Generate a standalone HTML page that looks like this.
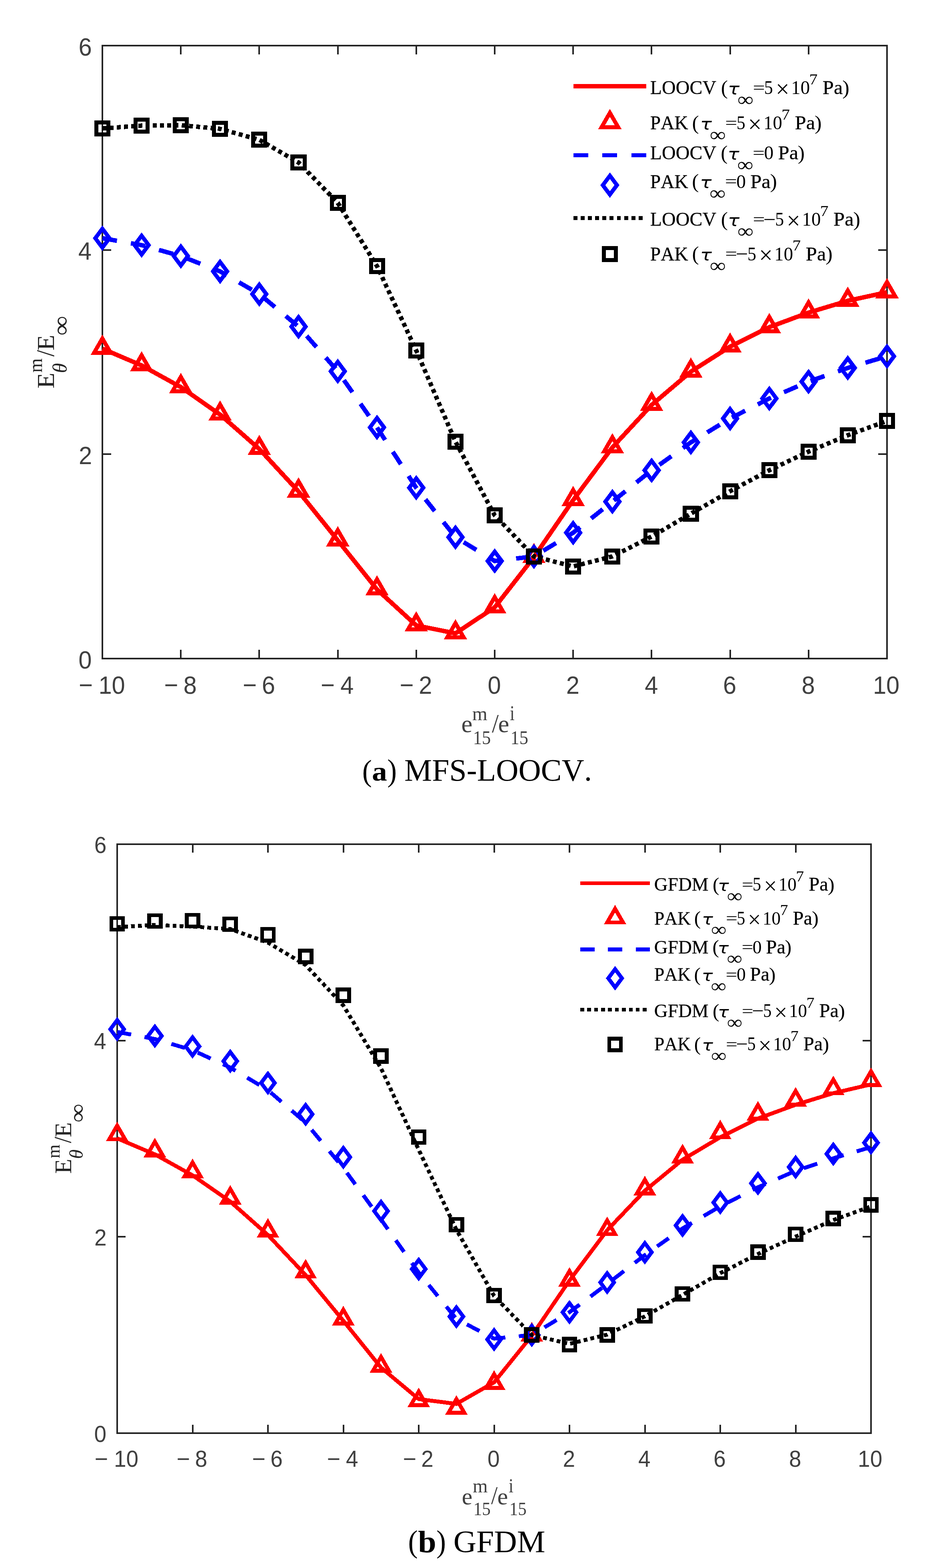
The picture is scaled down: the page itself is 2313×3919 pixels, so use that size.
<!DOCTYPE html>
<html lang="en"><head><meta charset="utf-8"><title>Figure</title>
<style>
html,body{margin:0;padding:0;background:#fff;}
body{width:2313px;height:3919px;overflow:hidden;}
svg{display:block;}
text{white-space:pre;font-kerning:none;}
</style></head><body>
<svg width="2313" height="3919" viewBox="0 0 2313 3919">
<rect width="2313" height="3919" fill="#ffffff"/>
<rect x="256.00" y="114.00" width="1962.00" height="1532.00" fill="none" stroke="#242424" stroke-width="4.00" shape-rendering="crispEdges"/>
<path d="M452.20 1646.00v-22.00M452.20 114.00v22.00M648.40 1646.00v-22.00M648.40 114.00v22.00M844.60 1646.00v-22.00M844.60 114.00v22.00M1040.80 1646.00v-22.00M1040.80 114.00v22.00M1237.00 1646.00v-22.00M1237.00 114.00v22.00M1433.20 1646.00v-22.00M1433.20 114.00v22.00M1629.40 1646.00v-22.00M1629.40 114.00v22.00M1825.60 1646.00v-22.00M1825.60 114.00v22.00M2021.80 1646.00v-22.00M2021.80 114.00v22.00M256.00 1135.33h22.00M2218.00 1135.33h-22.00M256.00 624.67h22.00M2218.00 624.67h-22.00" fill="none" stroke="#242424" stroke-width="4.00" shape-rendering="crispEdges"/>
<text transform="translate(196.98 1734.30) scale(0.6010 0.6350)" font-family="'Liberation Sans', sans-serif" font-size="100" fill="#404040">−</text>
<text transform="translate(246.40 1734.30) scale(0.5969 0.6350)" font-family="'Liberation Sans', sans-serif" font-size="100" fill="#404040">10</text>
<text transform="translate(410.53 1734.30) scale(0.6010 0.6350)" font-family="'Liberation Sans', sans-serif" font-size="100" fill="#404040">−</text>
<text transform="translate(458.70 1734.30) scale(0.5969 0.6350)" font-family="'Liberation Sans', sans-serif" font-size="100" fill="#404040">8</text>
<text transform="translate(606.96 1734.30) scale(0.6010 0.6350)" font-family="'Liberation Sans', sans-serif" font-size="100" fill="#404040">−</text>
<text transform="translate(654.70 1734.30) scale(0.5969 0.6350)" font-family="'Liberation Sans', sans-serif" font-size="100" fill="#404040">6</text>
<text transform="translate(801.90 1734.30) scale(0.6010 0.6350)" font-family="'Liberation Sans', sans-serif" font-size="100" fill="#404040">−</text>
<text transform="translate(851.29 1734.30) scale(0.5969 0.6350)" font-family="'Liberation Sans', sans-serif" font-size="100" fill="#404040">4</text>
<text transform="translate(999.54 1734.30) scale(0.6010 0.6350)" font-family="'Liberation Sans', sans-serif" font-size="100" fill="#404040">−</text>
<text transform="translate(1047.30 1734.30) scale(0.5969 0.6350)" font-family="'Liberation Sans', sans-serif" font-size="100" fill="#404040">2</text>
<text transform="translate(1219.60 1734.30) scale(0.5969 0.6350)" font-family="'Liberation Sans', sans-serif" font-size="100" fill="#404040">0</text>
<text transform="translate(1415.80 1734.30) scale(0.5969 0.6350)" font-family="'Liberation Sans', sans-serif" font-size="100" fill="#404040">2</text>
<text transform="translate(1612.19 1734.30) scale(0.5969 0.6350)" font-family="'Liberation Sans', sans-serif" font-size="100" fill="#404040">4</text>
<text transform="translate(1808.00 1734.30) scale(0.5969 0.6350)" font-family="'Liberation Sans', sans-serif" font-size="100" fill="#404040">6</text>
<text transform="translate(2004.40 1734.30) scale(0.5969 0.6350)" font-family="'Liberation Sans', sans-serif" font-size="100" fill="#404040">8</text>
<text transform="translate(2182.90 1734.30) scale(0.5969 0.6350)" font-family="'Liberation Sans', sans-serif" font-size="100" fill="#404040">10</text>
<text transform="translate(196.23 1670.50) scale(0.5969 0.6350)" font-family="'Liberation Sans', sans-serif" font-size="100" fill="#404040">0</text>
<text transform="translate(196.91 1159.83) scale(0.5969 0.6350)" font-family="'Liberation Sans', sans-serif" font-size="100" fill="#404040">2</text>
<text transform="translate(195.65 649.17) scale(0.5969 0.6350)" font-family="'Liberation Sans', sans-serif" font-size="100" fill="#404040">4</text>
<text transform="translate(196.53 138.50) scale(0.5969 0.6350)" font-family="'Liberation Sans', sans-serif" font-size="100" fill="#404040">6</text>
<polyline points="256.00,871.50 354.10,913.37 452.20,967.50 550.30,1036.19 648.40,1122.23 746.50,1228.45 844.60,1350.50 942.70,1473.32 1040.80,1563.20 1138.90,1582.98 1237.00,1518.00 1335.10,1392.38 1433.20,1249.90 1531.30,1118.15 1629.40,1012.19 1727.50,928.95 1825.60,866.39 1923.70,817.70 2021.80,781.36 2119.90,751.75 2218.00,730.40" fill="none" stroke="#ff0000" stroke-width="11.10" stroke-linejoin="round" shape-rendering="crispEdges"/>
<path d="M256.00 845.90L276.60 881.60L235.40 881.60ZM354.10 887.77L374.70 923.47L333.50 923.47ZM452.20 941.90L472.80 977.60L431.60 977.60ZM550.30 1010.59L570.90 1046.29L529.70 1046.29ZM648.40 1096.63L669.00 1132.33L627.80 1132.33ZM746.50 1202.85L767.10 1238.55L725.90 1238.55ZM844.60 1324.90L865.20 1360.60L824.00 1360.60ZM942.70 1447.72L963.30 1483.42L922.10 1483.42ZM1040.80 1537.60L1061.40 1573.30L1020.20 1573.30ZM1138.90 1557.38L1159.50 1593.08L1118.30 1593.08ZM1237.00 1492.40L1257.60 1528.10L1216.40 1528.10ZM1335.10 1366.78L1355.70 1402.48L1314.50 1402.48ZM1433.20 1224.30L1453.80 1260.00L1412.60 1260.00ZM1531.30 1092.55L1551.90 1128.25L1510.70 1128.25ZM1629.40 986.59L1650.00 1022.29L1608.80 1022.29ZM1727.50 903.35L1748.10 939.05L1706.90 939.05ZM1825.60 840.79L1846.20 876.49L1805.00 876.49ZM1923.70 792.10L1944.30 827.80L1903.10 827.80ZM2021.80 755.76L2042.40 791.46L2001.20 791.46ZM2119.90 726.15L2140.50 761.85L2099.30 761.85ZM2218.00 704.80L2238.60 740.50L2197.40 740.50Z" fill="none" stroke="#ff0000" stroke-width="10.00" stroke-linejoin="miter" stroke-miterlimit="10" shape-rendering="crispEdges"/>
<polyline points="256.00,595.30 354.10,612.67 452.20,639.99 550.30,678.29 648.40,734.97 746.50,816.42 844.60,928.00 942.70,1068.31 1040.80,1219.08 1138.90,1342.66 1237.00,1402.16 1335.10,1390.67 1433.20,1331.43 1531.30,1253.81 1629.40,1175.50 1727.50,1105.71 1825.60,1045.97 1923.70,996.00 2021.80,953.79 2119.90,919.58 2218.00,890.47" fill="none" stroke="#0000ff" stroke-width="11.10" stroke-linejoin="round" shape-rendering="crispEdges" stroke-dasharray="37 35.3" stroke-dashoffset="0.00"/>
<path d="M256.00 571.70L273.70 595.30L256.00 618.90L238.30 595.30ZM354.10 589.07L371.80 612.67L354.10 636.27L336.40 612.67ZM452.20 616.39L469.90 639.99L452.20 663.59L434.50 639.99ZM550.30 654.69L568.00 678.29L550.30 701.89L532.60 678.29ZM648.40 711.37L666.10 734.97L648.40 758.57L630.70 734.97ZM746.50 792.82L764.20 816.42L746.50 840.02L728.80 816.42ZM844.60 904.40L862.30 928.00L844.60 951.60L826.90 928.00ZM942.70 1044.71L960.40 1068.31L942.70 1091.91L925.00 1068.31ZM1040.80 1195.48L1058.50 1219.08L1040.80 1242.68L1023.10 1219.08ZM1138.90 1319.06L1156.60 1342.66L1138.90 1366.26L1121.20 1342.66ZM1237.00 1378.56L1254.70 1402.16L1237.00 1425.76L1219.30 1402.16ZM1335.10 1367.07L1352.80 1390.67L1335.10 1414.27L1317.40 1390.67ZM1433.20 1307.83L1450.90 1331.43L1433.20 1355.03L1415.50 1331.43ZM1531.30 1230.21L1549.00 1253.81L1531.30 1277.41L1513.60 1253.81ZM1629.40 1151.90L1647.10 1175.50L1629.40 1199.10L1611.70 1175.50ZM1727.50 1082.11L1745.20 1105.71L1727.50 1129.31L1709.80 1105.71ZM1825.60 1022.37L1843.30 1045.97L1825.60 1069.57L1807.90 1045.97ZM1923.70 972.40L1941.40 996.00L1923.70 1019.60L1906.00 996.00ZM2021.80 930.19L2039.50 953.79L2021.80 977.39L2004.10 953.79ZM2119.90 895.98L2137.60 919.58L2119.90 943.18L2102.20 919.58ZM2218.00 866.87L2235.70 890.47L2218.00 914.07L2200.30 890.47Z" fill="none" stroke="#0000ff" stroke-width="10.00" stroke-linejoin="miter" stroke-miterlimit="10" shape-rendering="crispEdges"/>
<polyline points="256.00,321.08 354.10,313.93 452.20,312.90 550.30,322.10 648.40,349.42 746.50,406.10 844.60,506.96 942.70,665.01 1040.80,875.91 1138.90,1103.93 1237.00,1287.89 1335.10,1390.67 1433.20,1415.69 1531.30,1390.67 1629.40,1341.13 1727.50,1283.81 1825.60,1227.76 1923.70,1175.29 2021.80,1128.80 2119.90,1087.84 2218.00,1052.09" fill="none" stroke="#000000" stroke-width="11.10" stroke-linejoin="round" shape-rendering="crispEdges" stroke-dasharray="9.9 8.175" stroke-dashoffset="0.00"/>
<path d="M240.95 306.03h30.10v30.10h-30.10ZM339.05 298.88h30.10v30.10h-30.10ZM437.15 297.85h30.10v30.10h-30.10ZM535.25 307.05h30.10v30.10h-30.10ZM633.35 334.37h30.10v30.10h-30.10ZM731.45 391.05h30.10v30.10h-30.10ZM829.55 491.91h30.10v30.10h-30.10ZM927.65 649.96h30.10v30.10h-30.10ZM1025.75 860.86h30.10v30.10h-30.10ZM1123.85 1088.88h30.10v30.10h-30.10ZM1221.95 1272.85h30.10v30.10h-30.10ZM1320.05 1375.62h30.10v30.10h-30.10ZM1418.15 1400.64h30.10v30.10h-30.10ZM1516.25 1375.62h30.10v30.10h-30.10ZM1614.35 1326.08h30.10v30.10h-30.10ZM1712.45 1268.76h30.10v30.10h-30.10ZM1810.55 1212.71h30.10v30.10h-30.10ZM1908.65 1160.24h30.10v30.10h-30.10ZM2006.75 1113.75h30.10v30.10h-30.10ZM2104.85 1072.79h30.10v30.10h-30.10ZM2202.95 1037.04h30.10v30.10h-30.10Z" fill="none" stroke="#000000" stroke-width="10.00" stroke-linejoin="miter" stroke-miterlimit="10" shape-rendering="crispEdges"/>
<path d="M1434.10 215.40H1616.00" fill="none" stroke="#ff0000" stroke-width="11.00" shape-rendering="crispEdges"/>
<path d="M1525.05 282.00L1545.65 317.70L1504.45 317.70Z" fill="none" stroke="#ff0000" stroke-width="10.00" stroke-linejoin="miter" stroke-miterlimit="10" shape-rendering="crispEdges"/>
<path d="M1434.10 388.00H1616.00" fill="none" stroke="#0000ff" stroke-width="10.10" shape-rendering="crispEdges" stroke-dasharray="37 35.3"/>
<path d="M1525.05 439.20L1542.75 462.80L1525.05 486.40L1507.35 462.80Z" fill="none" stroke="#0000ff" stroke-width="10.00" stroke-linejoin="miter" stroke-miterlimit="10" shape-rendering="crispEdges"/>
<path d="M1434.10 545.00H1606.72" fill="none" stroke="#000000" stroke-width="9.90" shape-rendering="crispEdges" stroke-dasharray="9.9 8.175"/>
<path d="M1510.00 620.00h30.10v30.10h-30.10Z" fill="none" stroke="#000000" stroke-width="10.00" stroke-linejoin="miter" stroke-miterlimit="10" shape-rendering="crispEdges"/>
<text stroke="#000000" stroke-width="0.7" stroke-linejoin="round" transform="translate(1625.82 235.20) scale(0.4797 0.4940)" font-family="'Liberation Serif', serif" font-size="100" fill="#000000">LOOCV</text>
<text transform="translate(1802.82 235.71) scale(0.5178 0.4974)" font-family="'Liberation Serif', serif" font-size="100" fill="#000000">(</text>
<text transform="translate(1819.91 236.00) scale(0.4847 0.4059)" font-family="'DejaVu Sans', sans-serif" font-style="italic" font-size="100" fill="#000000">τ</text>
<text transform="translate(1843.98 264.84) scale(0.5634 0.4884)" font-family="'Liberation Serif', serif" font-size="100" fill="#000000">∞</text>
<text transform="translate(1882.52 232.86) scale(0.5373 0.4040)" font-family="'Liberation Serif', serif" font-size="100" fill="#000000">=</text>
<text transform="translate(1910.83 235.22) scale(0.4419 0.4951)" font-family="'Liberation Serif', serif" font-size="100" fill="#000000">5</text>
<text transform="translate(1939.82 243.08) scale(0.6048 0.6115)" font-family="'Liberation Serif', serif" font-size="100" fill="#000000">×</text>
<text transform="translate(1978.18 235.22) scale(0.4691 0.4875)" font-family="'Liberation Serif', serif" font-size="100" fill="#000000">10</text>
<text transform="translate(2023.45 211.00) scale(0.4170 0.3894)" font-family="'Liberation Serif', serif" font-size="100" fill="#000000">7</text>
<text stroke="#000000" stroke-width="0.6" stroke-linejoin="round" transform="translate(2056.74 235.22) scale(0.5065 0.4951)" font-family="'Liberation Serif', serif" font-size="100" fill="#000000">Pa</text>
<text transform="translate(2106.18 235.71) scale(0.5334 0.4974)" font-family="'Liberation Serif', serif" font-size="100" fill="#000000">)</text>
<text stroke="#000000" stroke-width="0.7" stroke-linejoin="round" transform="translate(1625.83 323.10) scale(0.4741 0.4940)" font-family="'Liberation Serif', serif" font-size="100" fill="#000000">PAK</text>
<text transform="translate(1730.62 323.61) scale(0.5178 0.4974)" font-family="'Liberation Serif', serif" font-size="100" fill="#000000">(</text>
<text transform="translate(1750.71 323.90) scale(0.4847 0.4059)" font-family="'DejaVu Sans', sans-serif" font-style="italic" font-size="100" fill="#000000">τ</text>
<text transform="translate(1774.78 352.74) scale(0.5634 0.4884)" font-family="'Liberation Serif', serif" font-size="100" fill="#000000">∞</text>
<text transform="translate(1813.32 320.76) scale(0.5373 0.4040)" font-family="'Liberation Serif', serif" font-size="100" fill="#000000">=</text>
<text transform="translate(1841.63 323.12) scale(0.4419 0.4951)" font-family="'Liberation Serif', serif" font-size="100" fill="#000000">5</text>
<text transform="translate(1870.62 330.98) scale(0.6048 0.6115)" font-family="'Liberation Serif', serif" font-size="100" fill="#000000">×</text>
<text transform="translate(1908.98 323.12) scale(0.4691 0.4875)" font-family="'Liberation Serif', serif" font-size="100" fill="#000000">10</text>
<text transform="translate(1954.25 298.90) scale(0.4170 0.3894)" font-family="'Liberation Serif', serif" font-size="100" fill="#000000">7</text>
<text stroke="#000000" stroke-width="0.6" stroke-linejoin="round" transform="translate(1987.54 323.12) scale(0.5065 0.4951)" font-family="'Liberation Serif', serif" font-size="100" fill="#000000">Pa</text>
<text transform="translate(2036.98 323.61) scale(0.5334 0.4974)" font-family="'Liberation Serif', serif" font-size="100" fill="#000000">)</text>
<text stroke="#000000" stroke-width="0.7" stroke-linejoin="round" transform="translate(1625.82 398.00) scale(0.4797 0.4940)" font-family="'Liberation Serif', serif" font-size="100" fill="#000000">LOOCV</text>
<text transform="translate(1802.32 398.51) scale(0.5178 0.4974)" font-family="'Liberation Serif', serif" font-size="100" fill="#000000">(</text>
<text transform="translate(1819.51 398.80) scale(0.4847 0.4059)" font-family="'DejaVu Sans', sans-serif" font-style="italic" font-size="100" fill="#000000">τ</text>
<text transform="translate(1843.58 427.64) scale(0.5634 0.4884)" font-family="'Liberation Serif', serif" font-size="100" fill="#000000">∞</text>
<text transform="translate(1882.12 395.66) scale(0.5373 0.4040)" font-family="'Liberation Serif', serif" font-size="100" fill="#000000">=</text>
<text transform="translate(1910.58 398.02) scale(0.4766 0.4875)" font-family="'Liberation Serif', serif" font-size="100" fill="#000000">0</text>
<text stroke="#000000" stroke-width="0.6" stroke-linejoin="round" transform="translate(1945.44 398.02) scale(0.5076 0.4951)" font-family="'Liberation Serif', serif" font-size="100" fill="#000000">Pa</text>
<text transform="translate(1994.71 398.51) scale(0.5256 0.4974)" font-family="'Liberation Serif', serif" font-size="100" fill="#000000">)</text>
<text stroke="#000000" stroke-width="0.7" stroke-linejoin="round" transform="translate(1625.83 469.60) scale(0.4741 0.4940)" font-family="'Liberation Serif', serif" font-size="100" fill="#000000">PAK</text>
<text transform="translate(1730.32 470.11) scale(0.5178 0.4974)" font-family="'Liberation Serif', serif" font-size="100" fill="#000000">(</text>
<text transform="translate(1750.21 470.40) scale(0.4847 0.4059)" font-family="'DejaVu Sans', sans-serif" font-style="italic" font-size="100" fill="#000000">τ</text>
<text transform="translate(1774.28 499.24) scale(0.5634 0.4884)" font-family="'Liberation Serif', serif" font-size="100" fill="#000000">∞</text>
<text transform="translate(1812.82 467.26) scale(0.5373 0.4040)" font-family="'Liberation Serif', serif" font-size="100" fill="#000000">=</text>
<text transform="translate(1841.28 469.62) scale(0.4766 0.4875)" font-family="'Liberation Serif', serif" font-size="100" fill="#000000">0</text>
<text stroke="#000000" stroke-width="0.6" stroke-linejoin="round" transform="translate(1876.14 469.62) scale(0.5076 0.4951)" font-family="'Liberation Serif', serif" font-size="100" fill="#000000">Pa</text>
<text transform="translate(1925.41 470.11) scale(0.5256 0.4974)" font-family="'Liberation Serif', serif" font-size="100" fill="#000000">)</text>
<text stroke="#000000" stroke-width="0.7" stroke-linejoin="round" transform="translate(1625.82 564.30) scale(0.4797 0.4940)" font-family="'Liberation Serif', serif" font-size="100" fill="#000000">LOOCV</text>
<text transform="translate(1802.82 564.81) scale(0.5178 0.4974)" font-family="'Liberation Serif', serif" font-size="100" fill="#000000">(</text>
<text transform="translate(1819.91 565.10) scale(0.4847 0.4059)" font-family="'DejaVu Sans', sans-serif" font-style="italic" font-size="100" fill="#000000">τ</text>
<text transform="translate(1843.98 593.94) scale(0.5634 0.4884)" font-family="'Liberation Serif', serif" font-size="100" fill="#000000">∞</text>
<text transform="translate(1882.52 561.96) scale(0.5373 0.4040)" font-family="'Liberation Serif', serif" font-size="100" fill="#000000">=</text>
<text transform="translate(1908.76 565.53) scale(0.5501 0.5220)" font-family="'Liberation Serif', serif" font-size="100" fill="#000000">−</text>
<text transform="translate(1938.13 564.32) scale(0.4419 0.4951)" font-family="'Liberation Serif', serif" font-size="100" fill="#000000">5</text>
<text transform="translate(1967.12 572.18) scale(0.6048 0.6115)" font-family="'Liberation Serif', serif" font-size="100" fill="#000000">×</text>
<text transform="translate(2005.48 564.32) scale(0.4691 0.4875)" font-family="'Liberation Serif', serif" font-size="100" fill="#000000">10</text>
<text transform="translate(2050.75 540.10) scale(0.4170 0.3894)" font-family="'Liberation Serif', serif" font-size="100" fill="#000000">7</text>
<text stroke="#000000" stroke-width="0.6" stroke-linejoin="round" transform="translate(2084.04 564.32) scale(0.5065 0.4951)" font-family="'Liberation Serif', serif" font-size="100" fill="#000000">Pa</text>
<text transform="translate(2133.48 564.81) scale(0.5334 0.4974)" font-family="'Liberation Serif', serif" font-size="100" fill="#000000">)</text>
<text stroke="#000000" stroke-width="0.7" stroke-linejoin="round" transform="translate(1625.83 650.60) scale(0.4741 0.4940)" font-family="'Liberation Serif', serif" font-size="100" fill="#000000">PAK</text>
<text transform="translate(1730.62 651.11) scale(0.5178 0.4974)" font-family="'Liberation Serif', serif" font-size="100" fill="#000000">(</text>
<text transform="translate(1750.71 651.40) scale(0.4847 0.4059)" font-family="'DejaVu Sans', sans-serif" font-style="italic" font-size="100" fill="#000000">τ</text>
<text transform="translate(1774.78 680.24) scale(0.5634 0.4884)" font-family="'Liberation Serif', serif" font-size="100" fill="#000000">∞</text>
<text transform="translate(1813.32 648.26) scale(0.5373 0.4040)" font-family="'Liberation Serif', serif" font-size="100" fill="#000000">=</text>
<text transform="translate(1839.56 651.83) scale(0.5501 0.5220)" font-family="'Liberation Serif', serif" font-size="100" fill="#000000">−</text>
<text transform="translate(1868.93 650.62) scale(0.4419 0.4951)" font-family="'Liberation Serif', serif" font-size="100" fill="#000000">5</text>
<text transform="translate(1897.92 658.48) scale(0.6048 0.6115)" font-family="'Liberation Serif', serif" font-size="100" fill="#000000">×</text>
<text transform="translate(1936.28 650.62) scale(0.4691 0.4875)" font-family="'Liberation Serif', serif" font-size="100" fill="#000000">10</text>
<text transform="translate(1981.55 626.40) scale(0.4170 0.3894)" font-family="'Liberation Serif', serif" font-size="100" fill="#000000">7</text>
<text stroke="#000000" stroke-width="0.6" stroke-linejoin="round" transform="translate(2014.84 650.62) scale(0.5065 0.4951)" font-family="'Liberation Serif', serif" font-size="100" fill="#000000">Pa</text>
<text transform="translate(2064.28 651.11) scale(0.5334 0.4974)" font-family="'Liberation Serif', serif" font-size="100" fill="#000000">)</text>
<text transform="translate(1153.44 1830.09) scale(0.6295 0.6217)" font-family="'Liberation Serif', serif" font-size="100" fill="#404040">e</text>
<text transform="translate(1180.87 1800.30) scale(0.4897 0.4839)" font-family="'Liberation Serif', serif" font-size="100" fill="#404040">m</text>
<text transform="translate(1182.67 1859.63) scale(0.4467 0.4821)" font-family="'Liberation Serif', serif" font-size="100" fill="#404040">15</text>
<text transform="translate(1230.10 1830.06) scale(0.6119 0.6518)" font-family="'Liberation Serif', serif" font-size="100" fill="#404040">/</text>
<text transform="translate(1245.45 1830.09) scale(0.6268 0.6217)" font-family="'Liberation Serif', serif" font-size="100" fill="#404040">e</text>
<text transform="translate(1275.11 1800.30) scale(0.4247 0.5196)" font-family="'Liberation Serif', serif" font-size="100" fill="#404040">i</text>
<text transform="translate(1276.59 1859.63) scale(0.4444 0.4821)" font-family="'Liberation Serif', serif" font-size="100" fill="#404040">15</text>
<text transform="translate(135.20 971.01) rotate(-90) scale(0.6473 0.6155)" font-family="'Liberation Serif', serif" font-size="100" fill="#242424">E</text>
<text transform="translate(105.10 931.16) rotate(-90) scale(0.4587 0.4775)" font-family="'Liberation Serif', serif" font-size="100" fill="#242424">m</text>
<text transform="translate(166.60 932.47) rotate(-90) scale(0.5060 0.5106)" font-family="'Liberation Serif', serif" font-style="italic" font-size="100" fill="#242424">θ</text>
<text transform="translate(135.27 891.30) rotate(-90) scale(0.5939 0.6443)" font-family="'Liberation Serif', serif" font-size="100" fill="#242424">/</text>
<text transform="translate(135.20 876.00) rotate(-90) scale(0.6435 0.6155)" font-family="'Liberation Serif', serif" font-size="100" fill="#242424">E</text>
<text transform="translate(173.11 838.71) rotate(-90) scale(0.6952 0.6065)" font-family="'Liberation Serif', serif" font-size="100" fill="#242424">∞</text>
<text transform="translate(905.82 1951.86) scale(0.7242 0.7720)" font-family="'Liberation Serif', serif" font-size="100" fill="#000000">(</text>
<text transform="translate(930.06 1951.44) scale(0.7578 0.6764)" font-family="'Liberation Serif', serif" font-weight="bold" font-size="100" fill="#000000">a</text>
<text transform="translate(968.62 1951.86) scale(0.7086 0.7720)" font-family="'Liberation Serif', serif" font-size="100" fill="#000000">)</text>
<text transform="translate(1011.06 1950.90) scale(0.7780 0.7730)" font-family="'Liberation Serif', serif" font-size="100" fill="#000000">MFS-LOOCV.</text>
<rect x="293.00" y="2110.00" width="1885.00" height="1472.00" fill="none" stroke="#242424" stroke-width="4.00" shape-rendering="crispEdges"/>
<path d="M481.50 3582.00v-21.14M481.50 2110.00v21.14M670.00 3582.00v-21.14M670.00 2110.00v21.14M858.50 3582.00v-21.14M858.50 2110.00v21.14M1047.00 3582.00v-21.14M1047.00 2110.00v21.14M1235.50 3582.00v-21.14M1235.50 2110.00v21.14M1424.00 3582.00v-21.14M1424.00 2110.00v21.14M1612.50 3582.00v-21.14M1612.50 2110.00v21.14M1801.00 3582.00v-21.14M1801.00 2110.00v21.14M1989.50 3582.00v-21.14M1989.50 2110.00v21.14M293.00 3091.33h21.14M2178.00 3091.33h-21.14M293.00 2600.67h21.14M2178.00 2600.67h-21.14" fill="none" stroke="#242424" stroke-width="4.00" shape-rendering="crispEdges"/>
<text transform="translate(236.58 3666.20) scale(0.5763 0.5760)" font-family="'Liberation Sans', sans-serif" font-size="100" fill="#404040">−</text>
<text transform="translate(284.94 3666.20) scale(0.5501 0.5760)" font-family="'Liberation Sans', sans-serif" font-size="100" fill="#404040">10</text>
<text transform="translate(441.50 3666.20) scale(0.5763 0.5760)" font-family="'Liberation Sans', sans-serif" font-size="100" fill="#404040">−</text>
<text transform="translate(487.85 3666.20) scale(0.5501 0.5760)" font-family="'Liberation Sans', sans-serif" font-size="100" fill="#404040">8</text>
<text transform="translate(630.22 3666.20) scale(0.5763 0.5760)" font-family="'Liberation Sans', sans-serif" font-size="100" fill="#404040">−</text>
<text transform="translate(676.17 3666.20) scale(0.5501 0.5760)" font-family="'Liberation Sans', sans-serif" font-size="100" fill="#404040">6</text>
<text transform="translate(817.55 3666.20) scale(0.5763 0.5760)" font-family="'Liberation Sans', sans-serif" font-size="100" fill="#404040">−</text>
<text transform="translate(865.03 3666.20) scale(0.5501 0.5760)" font-family="'Liberation Sans', sans-serif" font-size="100" fill="#404040">4</text>
<text transform="translate(1007.38 3666.20) scale(0.5763 0.5760)" font-family="'Liberation Sans', sans-serif" font-size="100" fill="#404040">−</text>
<text transform="translate(1053.35 3666.20) scale(0.5501 0.5760)" font-family="'Liberation Sans', sans-serif" font-size="100" fill="#404040">2</text>
<text transform="translate(1218.90 3666.20) scale(0.5501 0.5760)" font-family="'Liberation Sans', sans-serif" font-size="100" fill="#404040">0</text>
<text transform="translate(1407.40 3666.20) scale(0.5501 0.5760)" font-family="'Liberation Sans', sans-serif" font-size="100" fill="#404040">2</text>
<text transform="translate(1596.08 3666.20) scale(0.5501 0.5760)" font-family="'Liberation Sans', sans-serif" font-size="100" fill="#404040">4</text>
<text transform="translate(1784.22 3666.20) scale(0.5501 0.5760)" font-family="'Liberation Sans', sans-serif" font-size="100" fill="#404040">6</text>
<text transform="translate(1972.90 3666.20) scale(0.5501 0.5760)" font-family="'Liberation Sans', sans-serif" font-size="100" fill="#404040">8</text>
<text transform="translate(2145.09 3666.20) scale(0.5501 0.5760)" font-family="'Liberation Sans', sans-serif" font-size="100" fill="#404040">10</text>
<text transform="translate(235.46 3603.50) scale(0.5501 0.5760)" font-family="'Liberation Sans', sans-serif" font-size="100" fill="#404040">0</text>
<text transform="translate(236.07 3112.83) scale(0.5501 0.5760)" font-family="'Liberation Sans', sans-serif" font-size="100" fill="#404040">2</text>
<text transform="translate(234.92 2622.17) scale(0.5501 0.5760)" font-family="'Liberation Sans', sans-serif" font-size="100" fill="#404040">4</text>
<text transform="translate(235.72 2131.50) scale(0.5501 0.5760)" font-family="'Liberation Sans', sans-serif" font-size="100" fill="#404040">6</text>
<polyline points="293.00,2845.23 387.25,2885.17 481.50,2937.58 575.75,3003.07 670.00,3086.75 764.25,3186.81 858.50,3301.08 952.75,3418.08 1047.00,3496.84 1141.25,3508.85 1235.50,3455.01 1329.75,3338.31 1424.00,3200.41 1518.25,3074.82 1612.50,2976.01 1706.75,2898.53 1801.00,2842.42 1895.25,2795.64 1989.50,2761.23 2083.75,2732.27 2178.00,2710.26" fill="none" stroke="#ff0000" stroke-width="9.80" stroke-linejoin="round" shape-rendering="crispEdges"/>
<path d="M293.00 2813.11L312.89 2847.58L273.11 2847.58ZM387.25 2853.35L407.14 2887.82L367.36 2887.82ZM481.50 2905.36L501.39 2939.83L461.61 2939.83ZM575.75 2971.35L595.64 3005.82L555.86 3005.82ZM670.00 3054.03L689.89 3088.50L650.11 3088.50ZM764.25 3156.09L784.14 3190.56L744.36 3190.56ZM858.50 3273.36L878.39 3307.83L838.61 3307.83ZM952.75 3391.36L972.64 3425.83L932.86 3425.83ZM1047.00 3477.72L1066.89 3512.19L1027.11 3512.19ZM1141.25 3496.73L1161.14 3531.20L1121.36 3531.20ZM1235.50 3434.30L1255.39 3468.77L1215.61 3468.77ZM1329.75 3313.59L1349.64 3348.06L1309.86 3348.06ZM1424.00 3176.70L1443.89 3211.17L1404.11 3211.17ZM1518.25 3050.10L1538.14 3084.57L1498.36 3084.57ZM1612.50 2948.29L1632.39 2982.76L1592.61 2982.76ZM1706.75 2868.31L1726.64 2902.78L1686.86 2902.78ZM1801.00 2808.21L1820.89 2842.68L1781.11 2842.68ZM1895.25 2761.42L1915.14 2795.89L1875.36 2795.89ZM1989.50 2726.51L2009.39 2760.98L1969.61 2760.98ZM2083.75 2698.05L2103.64 2732.52L2063.86 2732.52ZM2178.00 2677.54L2197.89 2712.01L2158.11 2712.01Z" fill="none" stroke="#ff0000" stroke-width="9.61" stroke-linejoin="miter" stroke-miterlimit="10" shape-rendering="crispEdges"/>
<polyline points="293.00,2579.15 387.25,2596.94 481.50,2624.79 575.75,2668.19 670.00,2724.65 764.25,2805.91 858.50,2919.12 952.75,3047.93 1047.00,3180.80 1141.25,3296.54 1235.50,3345.71 1329.75,3336.67 1424.00,3279.75 1518.25,3209.17 1612.50,3136.92 1706.75,3070.37 1801.00,3014.97 1895.25,2967.45 1989.50,2926.40 2083.75,2895.03 2178.00,2867.06" fill="none" stroke="#0000ff" stroke-width="9.80" stroke-linejoin="round" shape-rendering="crispEdges" stroke-dasharray="35.548 33.915" stroke-dashoffset="0.00"/>
<path d="M293.00 2549.67L310.09 2572.45L293.00 2595.24L275.91 2572.45ZM387.25 2566.35L404.34 2589.14L387.25 2611.92L370.16 2589.14ZM481.50 2592.60L498.59 2615.39L481.50 2638.17L464.41 2615.39ZM575.75 2629.40L592.84 2652.19L575.75 2674.97L558.66 2652.19ZM670.00 2683.86L687.09 2706.65L670.00 2729.44L652.91 2706.65ZM764.25 2762.12L781.34 2784.91L764.25 2807.70L747.16 2784.91ZM858.50 2869.34L875.59 2892.12L858.50 2914.91L841.41 2892.12ZM952.75 3004.15L969.84 3026.93L952.75 3049.72L935.66 3026.93ZM1047.00 3149.02L1064.09 3171.80L1047.00 3194.59L1029.91 3171.80ZM1141.25 3267.76L1158.34 3290.54L1141.25 3313.33L1124.16 3290.54ZM1235.50 3324.92L1252.59 3347.71L1235.50 3370.49L1218.41 3347.71ZM1329.75 3313.88L1346.84 3336.67L1329.75 3359.45L1312.66 3336.67ZM1424.00 3256.96L1441.09 3279.75L1424.00 3302.54L1406.91 3279.75ZM1518.25 3182.38L1535.34 3205.17L1518.25 3227.96L1501.16 3205.17ZM1612.50 3107.14L1629.59 3129.92L1612.50 3152.71L1595.41 3129.92ZM1706.75 3040.09L1723.84 3062.87L1706.75 3085.66L1689.66 3062.87ZM1801.00 2982.68L1818.09 3005.47L1801.00 3028.25L1783.91 3005.47ZM1895.25 2934.67L1912.34 2957.45L1895.25 2980.24L1878.16 2957.45ZM1989.50 2894.11L2006.59 2916.90L1989.50 2939.69L1972.41 2916.90ZM2083.75 2861.24L2100.84 2884.03L2083.75 2906.81L2066.66 2884.03ZM2178.00 2833.27L2195.09 2856.06L2178.00 2878.85L2160.91 2856.06Z" fill="none" stroke="#0000ff" stroke-width="9.61" stroke-linejoin="miter" stroke-miterlimit="10" shape-rendering="crispEdges"/>
<polyline points="293.00,2317.27 387.25,2312.00 481.50,2315.91 575.75,2321.95 670.00,2355.90 764.25,2411.96 858.50,2512.97 952.75,2669.93 1047.00,2873.57 1141.25,3073.66 1235.50,3238.92 1329.75,3336.67 1424.00,3358.71 1518.25,3335.67 1612.50,3290.07 1706.75,3236.39 1801.00,3182.14 1895.25,3134.13 1989.50,3090.75 2083.75,3049.40 2178.00,3015.35" fill="none" stroke="#000000" stroke-width="9.80" stroke-linejoin="round" shape-rendering="crispEdges" stroke-dasharray="9.511 7.854" stroke-dashoffset="0.00"/>
<path d="M278.47 2294.43h29.06v29.06h-29.06ZM372.72 2287.56h29.06v29.06h-29.06ZM466.97 2286.58h29.06v29.06h-29.06ZM561.22 2295.42h29.06v29.06h-29.06ZM655.47 2321.67h29.06v29.06h-29.06ZM749.72 2376.13h29.06v29.06h-29.06ZM843.97 2473.04h29.06v29.06h-29.06ZM938.22 2624.90h29.06v29.06h-29.06ZM1032.47 2827.54h29.06v29.06h-29.06ZM1126.72 3046.63h29.06v29.06h-29.06ZM1220.97 3223.39h29.06v29.06h-29.06ZM1315.22 3322.14h29.06v29.06h-29.06ZM1409.47 3346.18h29.06v29.06h-29.06ZM1503.72 3322.14h29.06v29.06h-29.06ZM1597.97 3274.54h29.06v29.06h-29.06ZM1692.22 3219.46h29.06v29.06h-29.06ZM1786.47 3165.61h29.06v29.06h-29.06ZM1880.72 3115.20h29.06v29.06h-29.06ZM1974.97 3070.52h29.06v29.06h-29.06ZM2069.22 3031.17h29.06v29.06h-29.06ZM2163.47 2996.82h29.06v29.06h-29.06Z" fill="none" stroke="#000000" stroke-width="9.61" stroke-linejoin="miter" stroke-miterlimit="10" shape-rendering="crispEdges"/>
<path d="M1451.00 2207.30H1625.10" fill="none" stroke="#ff0000" stroke-width="9.50" shape-rendering="crispEdges"/>
<path d="M1538.05 2271.16L1557.94 2305.63L1518.16 2305.63Z" fill="none" stroke="#ff0000" stroke-width="9.61" stroke-linejoin="miter" stroke-miterlimit="10" shape-rendering="crispEdges"/>
<path d="M1451.00 2373.13H1625.10" fill="none" stroke="#0000ff" stroke-width="10.40" shape-rendering="crispEdges" stroke-dasharray="35.548 33.915"/>
<path d="M1538.05 2422.20L1555.14 2444.99L1538.05 2467.78L1520.96 2444.99Z" fill="none" stroke="#0000ff" stroke-width="9.61" stroke-linejoin="miter" stroke-miterlimit="10" shape-rendering="crispEdges"/>
<path d="M1451.00 2523.30H1616.85" fill="none" stroke="#000000" stroke-width="9.50" shape-rendering="crispEdges" stroke-dasharray="9.511 7.854"/>
<path d="M1523.52 2595.95h29.06v29.06h-29.06Z" fill="none" stroke="#000000" stroke-width="9.61" stroke-linejoin="miter" stroke-miterlimit="10" shape-rendering="crispEdges"/>
<text stroke="#000000" stroke-width="0.7" stroke-linejoin="round" transform="translate(1635.87 2226.10) scale(0.4696 0.4746)" font-family="'Liberation Serif', serif" font-size="100" fill="#000000">GFDM</text>
<text transform="translate(1782.01 2226.59) scale(0.4975 0.4779)" font-family="'Liberation Serif', serif" font-size="100" fill="#000000">(</text>
<text transform="translate(1794.68 2226.87) scale(0.4657 0.3900)" font-family="'DejaVu Sans', sans-serif" font-style="italic" font-size="100" fill="#000000">τ</text>
<text transform="translate(1817.81 2254.58) scale(0.5413 0.4692)" font-family="'Liberation Serif', serif" font-size="100" fill="#000000">∞</text>
<text transform="translate(1854.84 2223.86) scale(0.5162 0.3881)" font-family="'Liberation Serif', serif" font-size="100" fill="#000000">=</text>
<text transform="translate(1882.04 2226.12) scale(0.4245 0.4756)" font-family="'Liberation Serif', serif" font-size="100" fill="#000000">5</text>
<text transform="translate(1909.88 2233.67) scale(0.5811 0.5875)" font-family="'Liberation Serif', serif" font-size="100" fill="#000000">×</text>
<text transform="translate(1946.74 2226.12) scale(0.4507 0.4684)" font-family="'Liberation Serif', serif" font-size="100" fill="#000000">10</text>
<text transform="translate(1990.24 2202.85) scale(0.4006 0.3742)" font-family="'Liberation Serif', serif" font-size="100" fill="#000000">7</text>
<text stroke="#000000" stroke-width="0.6" stroke-linejoin="round" transform="translate(2022.22 2226.12) scale(0.4866 0.4756)" font-family="'Liberation Serif', serif" font-size="100" fill="#000000">Pa</text>
<text transform="translate(2069.72 2226.59) scale(0.5125 0.4779)" font-family="'Liberation Serif', serif" font-size="100" fill="#000000">)</text>
<text stroke="#000000" stroke-width="0.7" stroke-linejoin="round" transform="translate(1635.99 2310.55) scale(0.4558 0.4746)" font-family="'Liberation Serif', serif" font-size="100" fill="#000000">PAK</text>
<text transform="translate(1735.71 2311.04) scale(0.4975 0.4779)" font-family="'Liberation Serif', serif" font-size="100" fill="#000000">(</text>
<text transform="translate(1754.88 2311.32) scale(0.4657 0.3900)" font-family="'DejaVu Sans', sans-serif" font-style="italic" font-size="100" fill="#000000">τ</text>
<text transform="translate(1778.01 2339.03) scale(0.5413 0.4692)" font-family="'Liberation Serif', serif" font-size="100" fill="#000000">∞</text>
<text transform="translate(1815.04 2308.31) scale(0.5162 0.3881)" font-family="'Liberation Serif', serif" font-size="100" fill="#000000">=</text>
<text transform="translate(1842.24 2310.57) scale(0.4245 0.4756)" font-family="'Liberation Serif', serif" font-size="100" fill="#000000">5</text>
<text transform="translate(1870.08 2318.12) scale(0.5811 0.5875)" font-family="'Liberation Serif', serif" font-size="100" fill="#000000">×</text>
<text transform="translate(1906.94 2310.57) scale(0.4507 0.4684)" font-family="'Liberation Serif', serif" font-size="100" fill="#000000">10</text>
<text transform="translate(1950.44 2287.30) scale(0.4006 0.3742)" font-family="'Liberation Serif', serif" font-size="100" fill="#000000">7</text>
<text stroke="#000000" stroke-width="0.6" stroke-linejoin="round" transform="translate(1982.42 2310.57) scale(0.4866 0.4756)" font-family="'Liberation Serif', serif" font-size="100" fill="#000000">Pa</text>
<text transform="translate(2029.92 2311.04) scale(0.5125 0.4779)" font-family="'Liberation Serif', serif" font-size="100" fill="#000000">)</text>
<text stroke="#000000" stroke-width="0.7" stroke-linejoin="round" transform="translate(1635.87 2382.51) scale(0.4696 0.4746)" font-family="'Liberation Serif', serif" font-size="100" fill="#000000">GFDM</text>
<text transform="translate(1781.61 2383.00) scale(0.4975 0.4779)" font-family="'Liberation Serif', serif" font-size="100" fill="#000000">(</text>
<text transform="translate(1794.28 2383.28) scale(0.4657 0.3900)" font-family="'DejaVu Sans', sans-serif" font-style="italic" font-size="100" fill="#000000">τ</text>
<text transform="translate(1817.41 2410.99) scale(0.5413 0.4692)" font-family="'Liberation Serif', serif" font-size="100" fill="#000000">∞</text>
<text transform="translate(1854.44 2380.27) scale(0.5162 0.3881)" font-family="'Liberation Serif', serif" font-size="100" fill="#000000">=</text>
<text transform="translate(1881.78 2382.53) scale(0.4579 0.4684)" font-family="'Liberation Serif', serif" font-size="100" fill="#000000">0</text>
<text stroke="#000000" stroke-width="0.6" stroke-linejoin="round" transform="translate(1915.27 2382.53) scale(0.4876 0.4756)" font-family="'Liberation Serif', serif" font-size="100" fill="#000000">Pa</text>
<text transform="translate(1962.60 2383.00) scale(0.5050 0.4779)" font-family="'Liberation Serif', serif" font-size="100" fill="#000000">)</text>
<text stroke="#000000" stroke-width="0.7" stroke-linejoin="round" transform="translate(1635.99 2451.30) scale(0.4558 0.4746)" font-family="'Liberation Serif', serif" font-size="100" fill="#000000">PAK</text>
<text transform="translate(1735.41 2451.79) scale(0.4975 0.4779)" font-family="'Liberation Serif', serif" font-size="100" fill="#000000">(</text>
<text transform="translate(1754.38 2452.07) scale(0.4657 0.3900)" font-family="'DejaVu Sans', sans-serif" font-style="italic" font-size="100" fill="#000000">τ</text>
<text transform="translate(1777.51 2479.78) scale(0.5413 0.4692)" font-family="'Liberation Serif', serif" font-size="100" fill="#000000">∞</text>
<text transform="translate(1814.54 2449.06) scale(0.5162 0.3881)" font-family="'Liberation Serif', serif" font-size="100" fill="#000000">=</text>
<text transform="translate(1841.88 2451.32) scale(0.4579 0.4684)" font-family="'Liberation Serif', serif" font-size="100" fill="#000000">0</text>
<text stroke="#000000" stroke-width="0.6" stroke-linejoin="round" transform="translate(1875.37 2451.32) scale(0.4876 0.4756)" font-family="'Liberation Serif', serif" font-size="100" fill="#000000">Pa</text>
<text transform="translate(1922.70 2451.79) scale(0.5050 0.4779)" font-family="'Liberation Serif', serif" font-size="100" fill="#000000">)</text>
<text stroke="#000000" stroke-width="0.7" stroke-linejoin="round" transform="translate(1635.87 2542.28) scale(0.4696 0.4746)" font-family="'Liberation Serif', serif" font-size="100" fill="#000000">GFDM</text>
<text transform="translate(1782.01 2542.78) scale(0.4975 0.4779)" font-family="'Liberation Serif', serif" font-size="100" fill="#000000">(</text>
<text transform="translate(1794.68 2543.05) scale(0.4657 0.3900)" font-family="'DejaVu Sans', sans-serif" font-style="italic" font-size="100" fill="#000000">τ</text>
<text transform="translate(1817.81 2570.76) scale(0.5413 0.4692)" font-family="'Liberation Serif', serif" font-size="100" fill="#000000">∞</text>
<text transform="translate(1854.84 2540.04) scale(0.5162 0.3881)" font-family="'Liberation Serif', serif" font-size="100" fill="#000000">=</text>
<text transform="translate(1880.05 2543.47) scale(0.5286 0.5016)" font-family="'Liberation Serif', serif" font-size="100" fill="#000000">−</text>
<text transform="translate(1908.27 2542.30) scale(0.4245 0.4756)" font-family="'Liberation Serif', serif" font-size="100" fill="#000000">5</text>
<text transform="translate(1936.11 2549.86) scale(0.5811 0.5875)" font-family="'Liberation Serif', serif" font-size="100" fill="#000000">×</text>
<text transform="translate(1972.97 2542.31) scale(0.4507 0.4684)" font-family="'Liberation Serif', serif" font-size="100" fill="#000000">10</text>
<text transform="translate(2016.46 2519.03) scale(0.4006 0.3742)" font-family="'Liberation Serif', serif" font-size="100" fill="#000000">7</text>
<text stroke="#000000" stroke-width="0.6" stroke-linejoin="round" transform="translate(2048.45 2542.30) scale(0.4866 0.4756)" font-family="'Liberation Serif', serif" font-size="100" fill="#000000">Pa</text>
<text transform="translate(2095.95 2542.78) scale(0.5125 0.4779)" font-family="'Liberation Serif', serif" font-size="100" fill="#000000">)</text>
<text stroke="#000000" stroke-width="0.7" stroke-linejoin="round" transform="translate(1635.99 2625.20) scale(0.4558 0.4746)" font-family="'Liberation Serif', serif" font-size="100" fill="#000000">PAK</text>
<text transform="translate(1735.71 2625.69) scale(0.4975 0.4779)" font-family="'Liberation Serif', serif" font-size="100" fill="#000000">(</text>
<text transform="translate(1754.88 2625.97) scale(0.4657 0.3900)" font-family="'DejaVu Sans', sans-serif" font-style="italic" font-size="100" fill="#000000">τ</text>
<text transform="translate(1778.01 2653.67) scale(0.5413 0.4692)" font-family="'Liberation Serif', serif" font-size="100" fill="#000000">∞</text>
<text transform="translate(1815.04 2622.95) scale(0.5162 0.3881)" font-family="'Liberation Serif', serif" font-size="100" fill="#000000">=</text>
<text transform="translate(1840.25 2626.38) scale(0.5286 0.5016)" font-family="'Liberation Serif', serif" font-size="100" fill="#000000">−</text>
<text transform="translate(1868.47 2625.21) scale(0.4245 0.4756)" font-family="'Liberation Serif', serif" font-size="100" fill="#000000">5</text>
<text transform="translate(1896.31 2632.77) scale(0.5811 0.5875)" font-family="'Liberation Serif', serif" font-size="100" fill="#000000">×</text>
<text transform="translate(1933.17 2625.22) scale(0.4507 0.4684)" font-family="'Liberation Serif', serif" font-size="100" fill="#000000">10</text>
<text transform="translate(1976.66 2601.95) scale(0.4006 0.3742)" font-family="'Liberation Serif', serif" font-size="100" fill="#000000">7</text>
<text stroke="#000000" stroke-width="0.6" stroke-linejoin="round" transform="translate(2008.65 2625.21) scale(0.4866 0.4756)" font-family="'Liberation Serif', serif" font-size="100" fill="#000000">Pa</text>
<text transform="translate(2056.15 2625.69) scale(0.5125 0.4779)" font-family="'Liberation Serif', serif" font-size="100" fill="#000000">)</text>
<text transform="translate(1154.66 3759.53) scale(0.5998 0.5843)" font-family="'Liberation Serif', serif" font-size="100" fill="#404040">e</text>
<text transform="translate(1182.08 3730.00) scale(0.4843 0.4775)" font-family="'Liberation Serif', serif" font-size="100" fill="#404040">m</text>
<text transform="translate(1183.69 3787.46) scale(0.4330 0.4538)" font-family="'Liberation Serif', serif" font-size="100" fill="#404040">15</text>
<text transform="translate(1227.90 3759.48) scale(0.5867 0.6338)" font-family="'Liberation Serif', serif" font-size="100" fill="#404040">/</text>
<text transform="translate(1243.55 3759.53) scale(0.6025 0.5843)" font-family="'Liberation Serif', serif" font-size="100" fill="#404040">e</text>
<text transform="translate(1271.90 3730.00) scale(0.4289 0.4969)" font-family="'Liberation Serif', serif" font-size="100" fill="#404040">i</text>
<text transform="translate(1273.72 3787.46) scale(0.4295 0.4538)" font-family="'Liberation Serif', serif" font-size="100" fill="#404040">15</text>
<text transform="translate(177.80 2933.66) rotate(-90) scale(0.6125 0.5903)" font-family="'Liberation Serif', serif" font-size="100" fill="#242424">E</text>
<text transform="translate(148.90 2894.93) rotate(-90) scale(0.4439 0.4669)" font-family="'Liberation Serif', serif" font-size="100" fill="#242424">m</text>
<text transform="translate(206.63 2896.54) rotate(-90) scale(0.4798 0.4796)" font-family="'Liberation Serif', serif" font-style="italic" font-size="100" fill="#242424">θ</text>
<text transform="translate(177.20 2856.90) rotate(-90) scale(0.5687 0.6099)" font-family="'Liberation Serif', serif" font-size="100" fill="#242424">/</text>
<text transform="translate(177.80 2842.57) rotate(-90) scale(0.6144 0.5903)" font-family="'Liberation Serif', serif" font-size="100" fill="#242424">E</text>
<text transform="translate(212.88 2805.58) rotate(-90) scale(0.6591 0.5829)" font-family="'Liberation Serif', serif" font-size="100" fill="#242424">∞</text>
<text transform="translate(1020.52 3879.44) scale(0.7242 0.7731)" font-family="'Liberation Serif', serif" font-size="100" fill="#000000">(</text>
<text transform="translate(1045.36 3880.03) scale(0.8192 0.7930)" font-family="'Liberation Serif', serif" font-weight="bold" font-size="100" fill="#000000">b</text>
<text transform="translate(1091.19 3879.44) scale(0.7164 0.7731)" font-family="'Liberation Serif', serif" font-size="100" fill="#000000">)</text>
<text transform="translate(1133.64 3878.90) scale(0.7956 0.7800)" font-family="'Liberation Serif', serif" font-size="100" fill="#000000">GFDM</text>
</svg>
</body></html>
